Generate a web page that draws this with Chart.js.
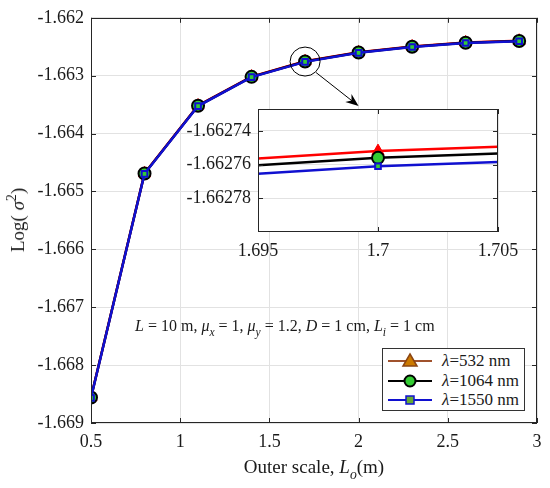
<!DOCTYPE html>
<html>
<head>
<meta charset="utf-8">
<script src="https://cdn.jsdelivr.net/npm/chart.js@4.4.0/dist/chart.umd.min.js"></script>
<style>
  body { margin: 0; background: #fff; }
  #wrap { position: relative; width: 550px; height: 488px; font-family: "Liberation Serif", serif; color: #1a1a1a; }
  canvas { position: absolute; left: 0; top: 0; }
  .ytitle { position: absolute; left: 18px; top: 220px; transform: translate(-50%, -50%) rotate(-90deg); font-size: 19px; white-space: nowrap; }
  .xtitle { position: absolute; left: 314px; top: 467px; transform: translate(-50%, -50%); font-size: 19px; white-space: nowrap; }
  .note { position: absolute; left: 135px; top: 317px; font-size: 16px; white-space: nowrap; }
  sub, sup { font-size: 0.72em; line-height: 0; }
  sub { vertical-align: -0.45em; }
  sup { vertical-align: 0.6em; }
  .legend { position: absolute; left: 382px; top: 348px; width: 141px; height: 61px; border: 1px solid #333; background: #fff; font-size: 17px; }
  .legend .row { position: absolute; left: 4px; height: 20px; display: flex; align-items: center; white-space: nowrap; }
  .legend svg { margin-right: 9px; }
</style>
</head>
<body>
<div id="wrap">
  <canvas id="mainChart" width="550" height="488"></canvas>
  <canvas id="insetChart" width="550" height="488"></canvas>
  <div class="ytitle">Log( <i>σ</i><sup>2</sup>)</div>
  <div class="xtitle">Outer scale, <i>L</i><sub><i>o</i></sub>(m)</div>
  <div class="note"><i>L</i> = 10 m, <i>μ</i><sub><i>x</i></sub> = 1, <i>μ</i><sub><i>y</i></sub> = 1.2, <i>D</i> = 1 cm, <i>L</i><sub><i>i</i></sub> = 1 cm</div>
  <div class="legend">
    <div class="row" style="top:2px">
      <svg width="46" height="18"><line x1="1" y1="9" x2="45" y2="9" stroke="#a0522d" stroke-width="2"/><polygon points="23,2 30,14 16,14" fill="#cc7a00" stroke="#8b4513" stroke-width="1.5"/></svg><span><i>λ</i>=532 nm</span>
    </div>
    <div class="row" style="top:22px">
      <svg width="46" height="18"><line x1="1" y1="9" x2="45" y2="9" stroke="#000" stroke-width="2"/><circle cx="23" cy="9" r="5.5" fill="#33cc33" stroke="#000" stroke-width="2"/></svg><span><i>λ</i>=1064 nm</span>
    </div>
    <div class="row" style="top:41px">
      <svg width="46" height="18"><line x1="1" y1="9" x2="45" y2="9" stroke="#1010d0" stroke-width="2"/><rect x="19" y="5" width="8" height="8" fill="#66aa33" stroke="#1010d0" stroke-width="1.5"/></svg><span><i>λ</i>=1550 nm</span>
    </div>
  </div>
</div>
<script>
// outer scale L_o (m)
const outerScale = [0.5, 0.8, 1.1, 1.4, 1.7, 2.0, 2.3, 2.6, 2.9];
// Log(sigma^2) for each wavelength
const logSigma532 = [-1.668556, -1.664686, -1.663516, -1.663016, -1.662752, -1.662596, -1.662496, -1.662426, -1.662396];
const logSigma1064 = [-1.668560, -1.664690, -1.663520, -1.663020, -1.662756, -1.662600, -1.662500, -1.662430, -1.662400];
const logSigma1550 = [-1.668565, -1.664695, -1.663525, -1.663025, -1.662761, -1.662605, -1.662505, -1.662435, -1.662405];

const mainXTicks = [0.5, 1, 1.5, 2, 2.5, 3];
const mainYTicks = [-1.669, -1.668, -1.667, -1.666, -1.665, -1.664, -1.663, -1.662];
const insetXTicks = [1.695, 1.7, 1.705];
const insetYTicks = [-1.66278, -1.66276, -1.66274];
const insetXRange = [1.695, 1.705];
const insetYRange = [-1.6628, -1.662727];
const zoomAt = 1.7;

const FONT = 'Liberation Serif';
const GRID = '#e2e2e2';
const AXIS = '#262626';
Chart.defaults.font.family = FONT;

// frame box ~ where MATLAB puts its axes
const MAIN = { left: 91, right: 537, top: 17, bottom: 423 };
const INSET = { left: 258, right: 498, top: 109, bottom: 232 };

function pts(ys) {
  return outerScale.map((x, i) => ({ x: x, y: ys[i] }));
}

function makeDatasets(clip) {
  return [
    {
      label: 'λ=532 nm', data: pts(logSigma532), order: 3,
      borderColor: '#ff0000', borderWidth: 2.5,
      pointStyle: 'triangle', pointRadius: 7, pointBackgroundColor: '#ff0000', pointBorderColor: '#ff0000', pointBorderWidth: 1,
      clip: clip
    },
    {
      label: 'λ=1064 nm', data: pts(logSigma1064), order: 2,
      borderColor: '#000000', borderWidth: 2.5,
      pointStyle: 'circle', pointRadius: 6, pointBackgroundColor: '#33cc33', pointBorderColor: '#000000', pointBorderWidth: 2,
      clip: clip
    },
    {
      label: 'λ=1550 nm', data: pts(logSigma1550), order: 1,
      borderColor: '#1010d0', borderWidth: 2.5,
      pointStyle: 'rect', pointRadius: 4, pointBackgroundColor: '#33cc33', pointBorderColor: '#1010d0', pointBorderWidth: 2,
      clip: clip
    }
  ];
}

function fixTicks(list) {
  return function(scale) { scale.ticks = list.map(v => ({ value: v })); };
}

// box around the plot area with small inward ticks on every side
const boxTicks = {
  id: 'boxTicks',
  beforeDraw(chart, args, opts) {
    if (!opts.fill) return;
    const a = chart.chartArea;
    chart.ctx.save();
    chart.ctx.fillStyle = opts.fill;
    chart.ctx.fillRect(a.left, a.top, a.right - a.left, a.bottom - a.top);
    chart.ctx.restore();
  },
  afterDraw(chart) {
    const { ctx, chartArea: a, scales } = chart;
    const len = 5;
    ctx.save();
    ctx.strokeStyle = AXIS;
    ctx.lineWidth = 1;
    ctx.strokeRect(Math.round(a.left) + 0.5, Math.round(a.top) + 0.5, Math.round(a.right - a.left) - 1, Math.round(a.bottom - a.top) - 1);
    ctx.beginPath();
    scales.x.ticks.forEach(t => {
      const px = Math.round(scales.x.getPixelForValue(t.value)) + 0.5;
      ctx.moveTo(px, a.bottom); ctx.lineTo(px, a.bottom - len);
      ctx.moveTo(px, a.top); ctx.lineTo(px, a.top + len);
    });
    scales.y.ticks.forEach(t => {
      const py = Math.round(scales.y.getPixelForValue(t.value)) + 0.5;
      ctx.moveTo(a.left, py); ctx.lineTo(a.left + len, py);
      ctx.moveTo(a.right, py); ctx.lineTo(a.right - len, py);
    });
    ctx.stroke();
    ctx.restore();
  }
};

// circle around the zoomed point and the arrow down to the inset
const zoomMark = {
  id: 'zoomMark',
  afterDraw(chart) {
    const { ctx, scales: { x, y } } = chart;
    const cx = x.getPixelForValue(zoomAt);
    const cy = y.getPixelForValue(logSigma1064[outerScale.indexOf(zoomAt)]);
    ctx.save();
    ctx.strokeStyle = '#000';
    ctx.lineWidth = 1;
    ctx.beginPath();
    ctx.ellipse(cx, cy, 15, 14.5, 0, 0, Math.PI * 2);
    ctx.stroke();
    const sx = cx + 11, sy = cy + 11;
    const ex = x.getPixelForValue(2.0), ey = INSET.top - 3;
    const ang = Math.atan2(ey - sy, ex - sx);
    ctx.beginPath();
    ctx.moveTo(sx, sy); ctx.lineTo(ex - 8 * Math.cos(ang), ey - 8 * Math.sin(ang));
    ctx.stroke();
    ctx.fillStyle = '#000';
    ctx.beginPath();
    ctx.moveTo(ex, ey);
    ctx.lineTo(ex - 13 * Math.cos(ang) + 5 * Math.sin(ang), ey - 13 * Math.sin(ang) - 5 * Math.cos(ang));
    ctx.lineTo(ex - 9 * Math.cos(ang), ey - 9 * Math.sin(ang));
    ctx.lineTo(ex - 13 * Math.cos(ang) - 5 * Math.sin(ang), ey - 13 * Math.sin(ang) + 5 * Math.cos(ang));
    ctx.closePath();
    ctx.fill();
    ctx.restore();
  }
};

function axisOptions(box, xRange, yRange, xTicks, yTicks, xFmt, yFmt) {
  return {
    x: {
      type: 'linear', min: xRange[0], max: xRange[1],
      afterBuildTicks: fixTicks(xTicks),
      afterFit(s) { s.height = 488 - box.bottom; },
      grid: { color: GRID, drawTicks: false },
      border: { display: false },
      ticks: { padding: 8, color: '#1a1a1a', font: { family: FONT, size: 18 }, maxRotation: 0, autoSkip: false, callback: xFmt }
    },
    y: {
      type: 'linear', min: yRange[0], max: yRange[1],
      afterBuildTicks: fixTicks(yTicks),
      afterFit(s) { s.width = box.left; },
      grid: { color: GRID, drawTicks: false },
      border: { display: false },
      ticks: { padding: 7, color: '#1a1a1a', font: { family: FONT, size: 18 }, autoSkip: false, callback: yFmt }
    }
  };
}

function baseOptions(box, scales, fill) {
  return {
    responsive: false,
    animation: false,
    layout: { padding: { top: box.top, right: 550 - box.right, left: 0, bottom: 0 } },
    plugins: { legend: { display: false }, tooltip: { enabled: false }, boxTicks: { fill: fill } },
    scales: scales
  };
}

const mainChart = new Chart(document.getElementById('mainChart').getContext('2d'), {
  type: 'line',
  data: { datasets: makeDatasets(undefined) },
  options: baseOptions(MAIN, axisOptions(MAIN, [0.5, 3], [-1.669, -1.662], mainXTicks, mainYTicks,
    v => String(+v.toFixed(1)), v => v.toFixed(3)), null),
  plugins: [boxTicks, zoomMark]
});

const insetChart = new Chart(document.getElementById('insetChart').getContext('2d'), {
  type: 'line',
  data: { datasets: makeDatasets(0) },
  options: baseOptions(INSET, axisOptions(INSET, insetXRange, insetYRange, insetXTicks, insetYTicks,
    v => String(+v.toFixed(3)), v => v.toFixed(5)), '#ffffff'),
  plugins: [boxTicks]
});

document.fonts.ready.then(() => { mainChart.update(); insetChart.update(); });
</script>
</body>
</html>
